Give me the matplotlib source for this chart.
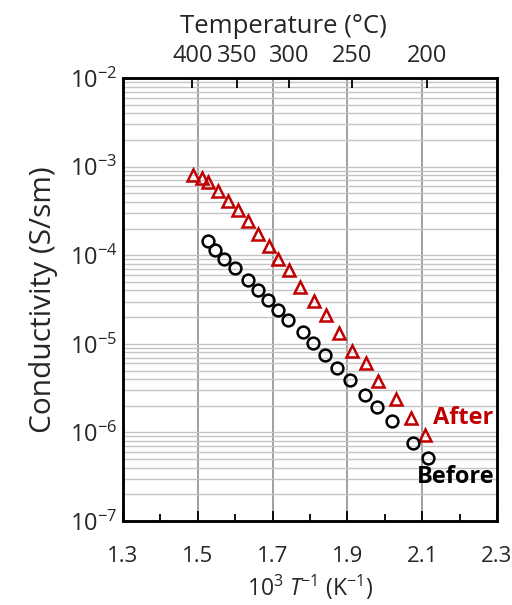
import matplotlib
matplotlib.use('Agg')
from matplotlib import pyplot as plt
from matplotlib.ticker import LogLocator, MultipleLocator, NullFormatter
import numpy as np

plt.rcParams['font.family'] = ['Open Sans', 'DejaVu Sans']
plt.rcParams['mathtext.fontset'] = 'custom'
plt.rcParams['mathtext.rm'] = 'Open Sans'
plt.rcParams['mathtext.it'] = 'Open Sans:italic'

# data
after_x = [1.487, 1.511, 1.527, 1.553, 1.580, 1.608, 1.634, 1.661, 1.690, 1.714, 1.745,
           1.772, 1.811, 1.844, 1.878, 1.913, 1.949, 1.981, 2.029, 2.069, 2.108]
after_y = [8.09e-4, 7.42e-4, 6.69e-4, 5.34e-4, 4.05e-4, 3.26e-4, 2.41e-4, 1.75e-4, 1.26e-4,
           9.0e-5, 6.76e-5, 4.35e-5, 3.08e-5, 2.11e-5, 1.34e-5, 8.27e-6, 6.01e-6, 3.80e-6,
           2.37e-6, 1.44e-6, 9.3e-7]
before_x = [1.527, 1.546, 1.571, 1.600, 1.634, 1.662, 1.687, 1.714, 1.742, 1.780, 1.808,
            1.839, 1.871, 1.907, 1.947, 1.979, 2.018, 2.076, 2.116]
before_y = [1.43e-4, 1.135e-4, 9.16e-5, 7.12e-5, 5.21e-5, 4.07e-5, 3.14e-5, 2.42e-5, 1.87e-5,
            1.372e-5, 1.01e-5, 7.46e-6, 5.38e-6, 3.94e-6, 2.64e-6, 1.94e-6, 1.36e-6, 7.55e-7,
            5.16e-7]
temps_c = [400, 350, 300, 250, 200]

red = '#C00000'
txt = '#262626'

fig = plt.figure(figsize=(5.12, 6.05), dpi=100)
ax = fig.add_axes([0.2402, 0.1388, 0.7305, 0.7322])

ax.set_yscale('log')
ax.set_xlim(1.3, 2.3)
ax.set_ylim(1e-7, 1e-2)

# grid
ax.yaxis.set_major_locator(LogLocator(base=10, numticks=10))
ax.yaxis.set_minor_locator(LogLocator(base=10, subs=np.arange(2, 10), numticks=10))
ax.yaxis.set_minor_formatter(NullFormatter())
ax.grid(True, which='both', axis='y', color='#c4c4c4', lw=1.0, zorder=0)
for xv in [1.5, 1.7, 1.9, 2.1]:
    ax.axvline(xv, color='#909090', lw=1.2, zorder=0)

ax.plot(after_x, after_y, '^', ms=8.5, mfc='none', mec=red, mew=1.8, zorder=3)
ax.plot(before_x, before_y, 'o', ms=8.5, mfc='none', mec='black', mew=1.8, zorder=3)

ax.text(2.129, 1.45e-6, 'After', color=red, fontsize=17, fontweight='bold',
        va='center', ha='left')
ax.text(2.086, 3.13e-7, 'Before', color='black', fontsize=17, fontweight='bold',
        va='center', ha='left')

ax.xaxis.set_minor_locator(MultipleLocator(0.1))
ax.set_xticks([1.3, 1.5, 1.7, 1.9, 2.1, 2.3])
ax.set_xticklabels(['1.3', '1.5', '1.7', '1.9', '2.1', '2.3'])
ax.tick_params(axis='x', which='both', direction='in', top=False, labelsize=16, pad=18,
               width=1.3, labelcolor=txt)
ax.tick_params(axis='x', which='major', length=7)
ax.tick_params(axis='x', which='minor', length=5)
ax.tick_params(axis='y', which='both', length=0, labelsize=17, pad=4, labelcolor=txt)

for s in ax.spines.values():
    s.set_linewidth(1.8)

ax.set_xlabel(r'10$^3$ $\mathit{T}$$^{-1}$ (K$^{-1}$)', fontsize=16.5, color=txt, labelpad=4)
ax.set_ylabel('Conductivity (S/sm)', fontsize=21.5, color=txt, labelpad=8)

# top temperature axis
top = ax.twiny()
top.set_xlim(ax.get_xlim())
top.set_xticks([1000.0 / (t + 273.15) for t in temps_c])
top.set_xticklabels([str(t) for t in temps_c])
top.tick_params(axis='x', direction='in', length=7, width=1.3, labelsize=17, pad=7,
                labelcolor=txt)
top.set_xlabel('Temperature (°C)', fontsize=18.5, color=txt, labelpad=8)
top.xaxis.label.set_x(0.43)
for s in top.spines.values():
    s.set_linewidth(1.8)

plt.savefig('out.png', dpi=100)
